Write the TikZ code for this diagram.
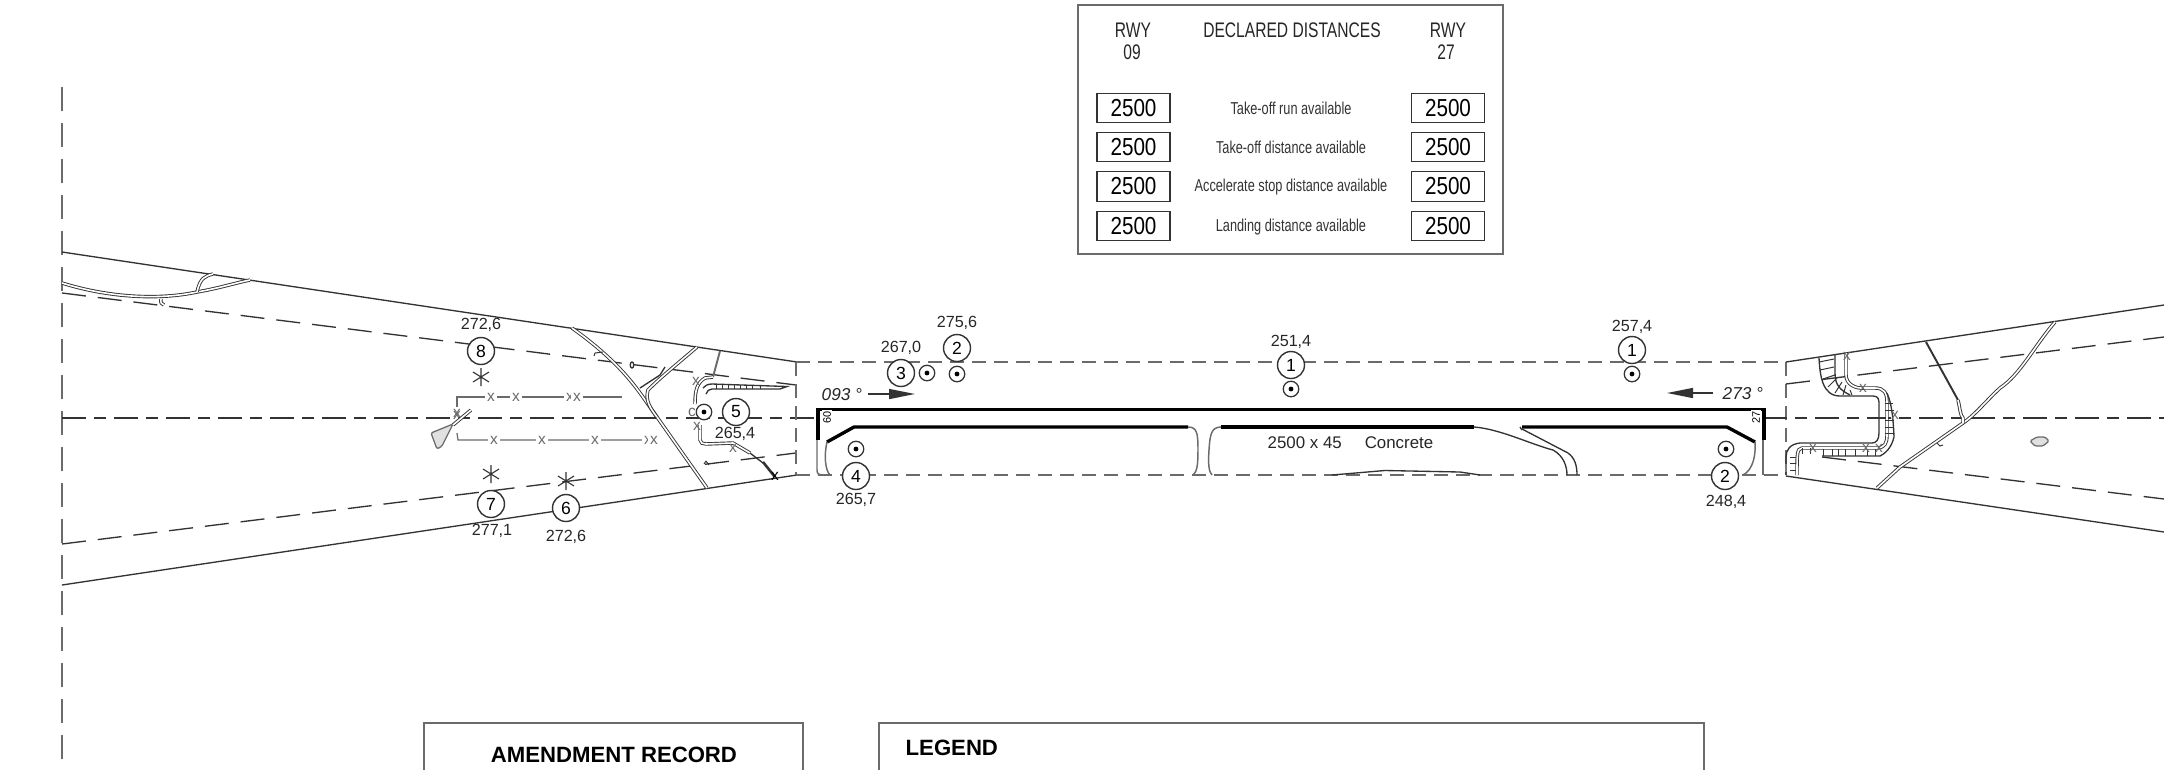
\documentclass[tikz,border=0pt]{standalone}
\usepackage{fontspec}
\setmainfont{Liberation Sans}
\newfontfamily\narrowsans[FakeStretch=0.74]{Liberation Sans}
\newfontfamily\headsans[FakeStretch=0.74]{Liberation Sans}
\newfontfamily\boxsans[FakeStretch=0.84]{Liberation Sans}
\usetikzlibrary{arrows.meta,positioning}
\definecolor{inkgrey}{gray}{0.2}
\definecolor{edgegrey}{gray}{0.42}
\tikzset{
    mapline/.style={draw=inkgrey, line width=0.38pt},
    stripdash/.style={draw=edgegrey, line width=0.42pt, dash pattern=on 0.14cm off 0.08cm},
    sidedash/.style={draw=inkgrey, line width=0.38pt, dash pattern=on 0.24cm off 0.12cm},
    limitdash/.style={draw=edgegrey, line width=0.5pt, dash pattern=on 0.24cm off 0.12cm},
    centredash/.style={draw=inkgrey, line width=0.38pt, dash pattern=on 0.24cm off 0.08cm on 0.12cm off 0.08cm},
    pavement/.style={draw=black, line width=0.95pt},
    shoulder/.style={draw=edgegrey, line width=0.42pt},
    road/.style={draw=inkgrey, double=white, double distance=0.016cm, line width=0.26pt},
    darkroad/.style={draw=inkgrey, line width=0.55pt},
    tick/.style={draw=inkgrey, line width=0.28pt},
    fenceline/.style={draw=edgegrey, line width=0.36pt},
    elevation/.style={font=\fontsize{4.6}{5}\selectfont, text=black!85, inner sep=0pt},
    numcirc/.style={circle, draw=inkgrey, fill=white, line width=0.4pt, minimum size=0.27cm, inner sep=0pt, font=\fontsize{5}{5}\selectfont},
    obstacle/.style={circle, draw=inkgrey, fill=white, line width=0.36pt, minimum size=0.155cm, inner sep=0pt},
    fencex/.style={fill=white, text=edgegrey, inner sep=0.6pt, font=\fontsize{4.4}{4}\selectfont},
    distbox/.style={draw=inkgrey, line width=0.36pt, minimum width=0.73cm, minimum height=0.295cm, inner sep=0pt, font=\boxsans\fontsize{7}{7}\selectfont},
    disttext/.style={inner sep=0pt, font=\narrowsans\fontsize{4.9}{5}\selectfont, text=black!80},
    headtext/.style={inner sep=0pt, font=\headsans\fontsize{6}{6}\selectfont, text=black!85},
    frameline/.style={draw=edgegrey, line width=0.45pt},
    bearing/.style={draw=inkgrey, line width=0.4pt, -{Triangle[length=0.26cm,width=0.1cm]}},
    wedge/.style={draw=edgegrey, fill=black!12, line width=0.36pt, rounded corners=0.4pt},
}
\newcommand{\dotmark}[1]{\fill[black] (#1) circle (0.024);}
\newcommand{\starmark}[1]{\draw[tick,line width=0.32pt] ([shift={(0,0.09)}]#1) -- ([shift={(0,-0.09)}]#1) ([shift={(-0.08,0.05)}]#1) -- ([shift={(0.08,-0.05)}]#1) ([shift={(-0.08,-0.05)}]#1) -- ([shift={(0.08,0.05)}]#1);}
\begin{document}
\begin{tikzpicture}
    \useasboundingbox (0,0) rectangle (21.64,-7.70);

    % Declared distances table
    \draw[frameline, line width=0.5pt] (10.78,-0.05) rectangle (15.03,-2.54);
    \node[headtext] (rwyA) at (11.33,-0.30) {RWY};
    \node[headtext] (numA) at (11.32,-0.52) {09};
    \node[headtext] (title) at (12.92,-0.30) {DECLARED DISTANCES};
    \node[headtext] (rwyB) at (14.48,-0.30) {RWY};
    \node[headtext] (numB) at (14.46,-0.52) {27};
    \node[distbox] (toraA) at (11.335,-1.08) {2500};
    \node[distbox] (todaA) at (11.335,-1.47) {2500};
    \node[distbox] (asdaA) at (11.335,-1.865) {2500};
    \node[distbox] (ldaA) at (11.335,-2.26) {2500};
    \node[distbox] (toraB) at (14.48,-1.08) {2500};
    \node[distbox] (todaB) at (14.48,-1.47) {2500};
    \node[distbox] (asdaB) at (14.48,-1.865) {2500};
    \node[distbox] (ldaB) at (14.48,-2.26) {2500};
    \node[disttext] (tora) at (12.91,-1.08) {Take-off run available};
    \node[disttext] (toda) at (12.91,-1.47) {Take-off distance available};
    \node[disttext] (asda) at (12.91,-1.87) {Accelerate stop distance available};
    \node[disttext] (lda) at (12.91,-2.27) {Landing distance available};

    % Left approach surface
    \draw[limitdash] (0.62,-0.87) -- (0.62,-7.70);
    \draw[mapline] (0.62,-2.52) -- (7.97,-3.62);
    \draw[mapline] (0.62,-5.85) -- (7.97,-4.75);
    \draw[sidedash] (0.62,-2.93) -- (7.96,-3.85);
    \draw[sidedash] (0.62,-5.44) -- (7.96,-4.53);
    \draw[centredash] (0.62,-4.18) -- (8.17,-4.18);

    % Runway strip
    \draw[stripdash] (7.96,-3.62) -- (7.96,-4.75);
    \draw[stripdash] (7.96,-3.62) -- (17.86,-3.62);
    \draw[stripdash] (7.96,-4.75) -- (17.86,-4.75);
    \draw[stripdash] (17.86,-3.62) -- (17.86,-4.75);

    % Right approach surface
    \draw[mapline] (17.86,-3.62) -- (21.64,-3.05);
    \draw[mapline] (17.86,-4.76) -- (21.64,-5.32);
    \draw[sidedash] (17.86,-3.84) -- (21.64,-3.37);
    \draw[sidedash] (18.22,-4.57) -- (21.64,-4.99);
    \draw[centredash] (17.63,-4.18) -- (21.64,-4.18);

    % Runway
    \draw[pavement] (8.18,-4.40) -- (8.18,-4.095) -- (17.64,-4.095) -- (17.64,-4.40);
    \draw[pavement] (8.27,-4.42) -- (8.54,-4.27) -- (11.88,-4.27);
    \draw[pavement] (12.21,-4.27) -- (14.74,-4.27);
    \draw[pavement] (15.22,-4.27) -- (17.27,-4.27) -- (17.55,-4.42);
    \draw[shoulder] (8.17,-4.40) -- (8.17,-4.70) .. controls (8.17,-4.74) and (8.19,-4.75) .. (8.22,-4.75);
    \draw[shoulder] (8.27,-4.42) .. controls (8.24,-4.55) and (8.25,-4.70) .. (8.30,-4.75);
    \draw[shoulder] (11.88,-4.27) .. controls (11.97,-4.27) and (11.98,-4.33) .. (11.98,-4.50) .. controls (11.98,-4.65) and (11.97,-4.72) .. (11.93,-4.75);
    \draw[shoulder] (12.21,-4.27) .. controls (12.11,-4.27) and (12.10,-4.35) .. (12.09,-4.50) .. controls (12.08,-4.65) and (12.09,-4.72) .. (12.12,-4.75);
    \draw[mapline] (14.74,-4.27) .. controls (15.00,-4.29) and (15.30,-4.44) .. (15.53,-4.50) .. controls (15.64,-4.56) and (15.67,-4.67) .. (15.67,-4.75);
    \draw[mapline] (15.22,-4.29) -- (15.68,-4.53) .. controls (15.75,-4.58) and (15.77,-4.66) .. (15.77,-4.75);
    \draw[mapline] (15.20,-4.27) -- (15.22,-4.30);
    \draw[shoulder] (17.55,-4.42) .. controls (17.56,-4.55) and (17.53,-4.70) .. (17.43,-4.75);
    \draw[shoulder] (17.63,-4.40) -- (17.63,-4.75);
    \draw[mapline] (13.32,-4.75) -- (13.85,-4.705) -- (14.60,-4.72) -- (14.80,-4.75);
    \node[inner sep=0.4pt, fill=white, rotate=90, font=\fontsize{3.1}{3}\selectfont] (thrA) at (8.27,-4.17) {60};
    \node[inner sep=0.4pt, fill=white, rotate=90, font=\fontsize{3.1}{3}\selectfont] (thrB) at (17.56,-4.17) {27};
    \node[anchor=west, inner sep=0pt, font=\fontsize{4.8}{5}\selectfont, text=black!85] (surface) at (12.67,-4.43) {2500 x 45\hspace{0.23cm}Concrete};

    % Bearings
    \node[anchor=west, inner sep=0pt, font=\itshape\fontsize{4.9}{5}\selectfont, text=black!85] (brgA) at (8.21,-3.95) {093 °};
    \coordinate (brgAa) at (8.68,-3.94);
    \coordinate (brgAb) at (9.15,-3.94);
    \draw[bearing] (brgAa) -- (brgAb);
    \node[anchor=west, inner sep=0pt, font=\itshape\fontsize{4.9}{5}\selectfont, text=black!85] (brgB) at (17.22,-3.94) {273 °};
    \coordinate (brgBa) at (17.13,-3.93);
    \coordinate (brgBb) at (16.67,-3.93);
    \draw[bearing] (brgBa) -- (brgBb);

    % Roads left
    \draw[road] (0.62,-2.83) .. controls (1.10,-2.98) and (1.60,-3.00) .. (1.97,-2.92) .. controls (2.20,-2.88) and (2.35,-2.83) .. (2.50,-2.80);
    \draw[road] (1.97,-2.92) .. controls (2.00,-2.78) and (2.05,-2.76) .. (2.13,-2.74);
    \draw[road] (1.61,-2.99) .. controls (1.60,-3.03) and (1.62,-3.04) .. (1.64,-3.05);
    \draw[road] (5.72,-3.28) .. controls (6.10,-3.55) and (6.30,-3.78) .. (6.45,-4.00) -- (7.07,-4.88);
    \draw[road] (6.97,-3.47) .. controls (6.70,-3.70) and (6.60,-3.78) .. (6.48,-3.90) .. controls (6.45,-4.00) and (6.50,-4.08) .. (6.57,-4.17);
    \draw[mapline] (6.40,-3.88) -- (6.60,-3.75) -- (6.65,-3.67);
    \draw[tick] (5.95,-3.53) -- (6.03,-3.52) (5.95,-3.53) -- (5.94,-3.56);
    \draw[tick] (7.09,-4.65) -- (7.06,-4.61) (7.06,-4.61) -- (7.04,-4.64);
    \draw[mapline] (6.32,-3.65) ellipse (0.018 and 0.03);
    \draw[darkroad, draw=edgegrey] (7.20,-3.51) -- (7.13,-3.77);
    \draw[road] (7.13,-3.77) -- (7.05,-3.78) .. controls (6.97,-3.83) and (6.95,-3.90) .. (6.95,-4.04);
    \draw[mapline] (7.03,-3.88) .. controls (7.05,-3.86) and (7.07,-3.84) .. (7.12,-3.84) -- (7.87,-3.865) -- (7.80,-3.89) -- (7.12,-3.89) .. controls (7.09,-3.89) and (7.07,-3.91) .. (7.06,-3.94);
    \draw[tick] (7.16,-3.85) -- (7.16,-3.89) (7.22,-3.85) -- (7.22,-3.89) (7.28,-3.85) -- (7.28,-3.89) (7.34,-3.85) -- (7.34,-3.89) (7.40,-3.85) -- (7.40,-3.89) (7.46,-3.855) -- (7.46,-3.89) (7.52,-3.855) -- (7.52,-3.89) (7.60,-3.855) -- (7.60,-3.89);
    \draw[road] (7.00,-4.25) -- (7.00,-4.40) .. controls (7.00,-4.43) and (7.03,-4.44) .. (7.06,-4.44) -- (7.33,-4.43) -- (7.50,-4.53);
    \draw[mapline] (7.50,-4.53) -- (7.63,-4.63);
    \draw[darkroad, line width=0.75pt] (7.63,-4.62) -- (7.75,-4.77);
    \node[fencex, fill=none] (fxA) at (6.96,-3.81) {x};
    \node[fencex, fill=none] (fxB) at (6.97,-4.26) {x};
    \node[fencex, fill=none] (fxC) at (7.33,-4.48) {x};
    \node[fencex, fill=none, inner sep=0pt, text=black] (fxD) at (7.75,-4.76) {x};
    \node[fencex, inner sep=0pt] (fxE) at (6.92,-4.12) {c};

    % Fence and wedge left
    \draw[fenceline] (4.57,-4.07) -- (4.57,-3.97) -- (6.22,-3.97);
    \draw[fenceline] (4.57,-4.33) -- (4.58,-4.40) -- (6.53,-4.40);
    \node[fencex] (fenceA) at (4.91,-3.97) {x};
    \node[fencex] (fenceB) at (5.16,-3.97) {x};
    \node[fencex] (fenceC) at (5.70,-3.97) {x};
    \node[fencex] (fenceD) at (5.77,-3.97) {x};
    \node[fencex] (fenceE) at (4.94,-4.40) {x};
    \node[fencex] (fenceF) at (5.42,-4.40) {x};
    \node[fencex] (fenceG) at (5.95,-4.40) {x};
    \node[fencex] (fenceH) at (6.48,-4.40) {x};
    \node[fencex] (fenceI) at (6.54,-4.40) {x};
    \node[fencex, inner sep=0pt, fill=none] (fenceJ) at (4.57,-4.13) {x};
    \node[fencex, inner sep=0pt, fill=none] (fenceK) at (4.57,-4.15) {x};
    \draw[wedge] (4.31,-4.33) -- (4.53,-4.24) -- (4.42,-4.46) -- (4.37,-4.49) -- cycle;
    \draw[road] (4.53,-4.25) -- (4.71,-4.10);

    % Roads right
    \draw[road] (20.55,-3.22) .. controls (20.35,-3.45) and (20.20,-3.75) .. (20.00,-3.88) .. controls (19.85,-4.02) and (19.75,-4.15) .. (19.63,-4.23) -- (19.00,-4.67) -- (18.77,-4.88);
    \draw[darkroad] (19.26,-3.42) -- (19.58,-4.00);
    \draw[road] (19.58,-4.00) .. controls (19.60,-4.08) and (19.60,-4.15) .. (19.63,-4.18) -- (19.63,-4.23);
    \draw[tick] (19.37,-4.43) -- (19.40,-4.46) -- (19.43,-4.45);
    \draw[wedge] (20.30,-4.41) -- (20.37,-4.37) -- (20.45,-4.37) -- (20.49,-4.41) -- (20.43,-4.46) -- (20.35,-4.46) -- cycle;

    % Drain right
    \draw[road] (18.46,-3.53) -- (18.46,-3.75) .. controls (18.46,-3.84) and (18.55,-3.89) .. (18.65,-3.88) -- (18.75,-3.88) .. controls (18.84,-3.88) and (18.87,-3.93) .. (18.87,-4.02) -- (18.87,-4.35) .. controls (18.87,-4.43) and (18.85,-4.47) .. (18.78,-4.48) -- (18.02,-4.48) .. controls (17.97,-4.49) and (17.97,-4.53) .. (17.97,-4.75);
    \draw[mapline] (18.35,-3.55) -- (18.35,-3.73) .. controls (18.35,-3.85) and (18.40,-3.90) .. (18.50,-3.95);
    \draw[mapline] (18.19,-3.58) .. controls (18.20,-3.75) and (18.22,-3.96) .. (18.40,-3.96) -- (18.73,-3.96) .. controls (18.79,-3.96) and (18.79,-4.00) .. (18.79,-4.05) -- (18.79,-4.33) .. controls (18.79,-4.40) and (18.76,-4.43) .. (18.72,-4.43) -- (18.00,-4.43) .. controls (17.90,-4.44) and (17.86,-4.50) .. (17.86,-4.57) -- (17.86,-4.75);
    \draw[mapline] (18.87,-3.93) .. controls (18.90,-4.00) and (18.93,-4.10) .. (18.94,-4.37) .. controls (18.92,-4.45) and (18.88,-4.52) .. (18.80,-4.56) -- (18.22,-4.56);
    \draw[tick] (18.19,-3.62) -- (18.34,-3.59) (18.20,-3.70) -- (18.34,-3.67) (18.23,-3.79) -- (18.35,-3.75) (18.28,-3.87) -- (18.37,-3.78) (18.35,-3.93) -- (18.42,-3.82) (18.43,-3.95) -- (18.46,-3.85) (18.52,-3.95) -- (18.50,-3.90);
    \draw[tick] (18.85,-4.03) -- (18.93,-4.03) (18.85,-4.10) -- (18.94,-4.10) (18.85,-4.20) -- (18.94,-4.20) (18.85,-4.27) -- (18.94,-4.27) (18.85,-4.33) -- (18.94,-4.33);
    \draw[tick] (18.02,-4.48) -- (18.02,-4.54) (18.10,-4.48) -- (18.10,-4.54) (18.23,-4.49) -- (18.23,-4.56) (18.32,-4.49) -- (18.32,-4.56) (18.38,-4.49) -- (18.38,-4.56) (18.45,-4.49) -- (18.45,-4.56) (18.55,-4.49) -- (18.55,-4.56) (18.67,-4.49) -- (18.67,-4.56) (18.75,-4.49) -- (18.75,-4.56);
    \draw[tick] (17.90,-4.57) -- (17.96,-4.57) (17.90,-4.63) -- (17.96,-4.63) (17.90,-4.70) -- (17.96,-4.70);
    \node[fencex, fill=none] (rxA) at (18.47,-3.56) {x};
    \node[fencex, fill=none] (rxB) at (18.63,-3.88) {x};
    \node[fencex, fill=none] (rxC) at (18.95,-4.15) {x};
    \node[fencex, fill=none] (rxD) at (18.79,-4.48) {x};
    \node[fencex, fill=none] (rxE) at (18.66,-4.48) {x};
    \node[fencex, fill=none] (rxF) at (18.13,-4.48) {x};

    % Obstacle stars
    \coordinate (starA) at (4.81,-3.77);
    \coordinate (starB) at (4.91,-4.74);
    \coordinate (starC) at (5.66,-4.81);
    \starmark{starA}
    \starmark{starB}
    \starmark{starC}

    % Obstacle markers
    \node[obstacle] (obsA) at (9.27,-3.73) {};
    \node[obstacle] (obsB) at (9.57,-3.74) {};
    \node[obstacle] (obsC) at (8.56,-4.49) {};
    \node[obstacle] (obsD) at (12.91,-3.89) {};
    \node[obstacle] (obsE) at (16.32,-3.74) {};
    \node[obstacle] (obsF) at (17.26,-4.49) {};
    \node[obstacle] (obsG) at (7.04,-4.12) {};
    \dotmark{obsA}
    \dotmark{obsB}
    \dotmark{obsC}
    \dotmark{obsD}
    \dotmark{obsE}
    \dotmark{obsF}
    \dotmark{obsG}

    % Numbered circles with elevations
    \node[numcirc] (cThree) at (9.01,-3.73) {3};
    \node[elevation] (eThree) at (9.01,-3.48) {267,0};
    \node[numcirc] (cTwoA) at (9.57,-3.48) {2};
    \node[elevation] (eTwoA) at (9.57,-3.23) {275,6};
    \node[numcirc] (cFour) at (8.56,-4.76) {4};
    \node[elevation] (eFour) at (8.56,-5.00) {265,7};
    \node[numcirc] (cOneA) at (12.91,-3.65) {1};
    \node[elevation] (eOneA) at (12.91,-3.42) {251,4};
    \node[numcirc] (cOneB) at (16.32,-3.50) {1};
    \node[elevation] (eOneB) at (16.32,-3.27) {257,4};
    \node[numcirc] (cTwoB) at (17.25,-4.76) {2};
    \node[elevation] (eTwoB) at (17.26,-5.02) {248,4};
    \node[numcirc] (cFive) at (7.36,-4.12) {5};
    \node[elevation] (eFive) at (7.35,-4.34) {265,4};
    \node[numcirc] (cEight) at (4.81,-3.51) {8};
    \node[elevation] (eEight) at (4.81,-3.25) {272,6};
    \node[numcirc] (cSeven) at (4.91,-5.04) {7};
    \node[elevation] (eSeven) at (4.92,-5.31) {277,1};
    \node[numcirc] (cSix) at (5.66,-5.08) {6};
    \node[elevation] (eSix) at (5.66,-5.37) {272,6};

    % Bottom frames
    \draw[frameline] (4.24,-7.70) -- (4.24,-7.23) -- (8.03,-7.23) -- (8.03,-7.70);
    \draw[frameline] (8.79,-7.70) -- (8.79,-7.23) -- (17.04,-7.23) -- (17.04,-7.70);
    \node[inner sep=0pt, font=\bfseries\fontsize{6.3}{7}\selectfont] (amend) at (6.14,-7.55) {AMENDMENT RECORD};
    \node[anchor=west, inner sep=0pt, font=\bfseries\fontsize{6.3}{7}\selectfont] (legend) at (9.05,-7.48) {LEGEND};
\end{tikzpicture}
\end{document}
